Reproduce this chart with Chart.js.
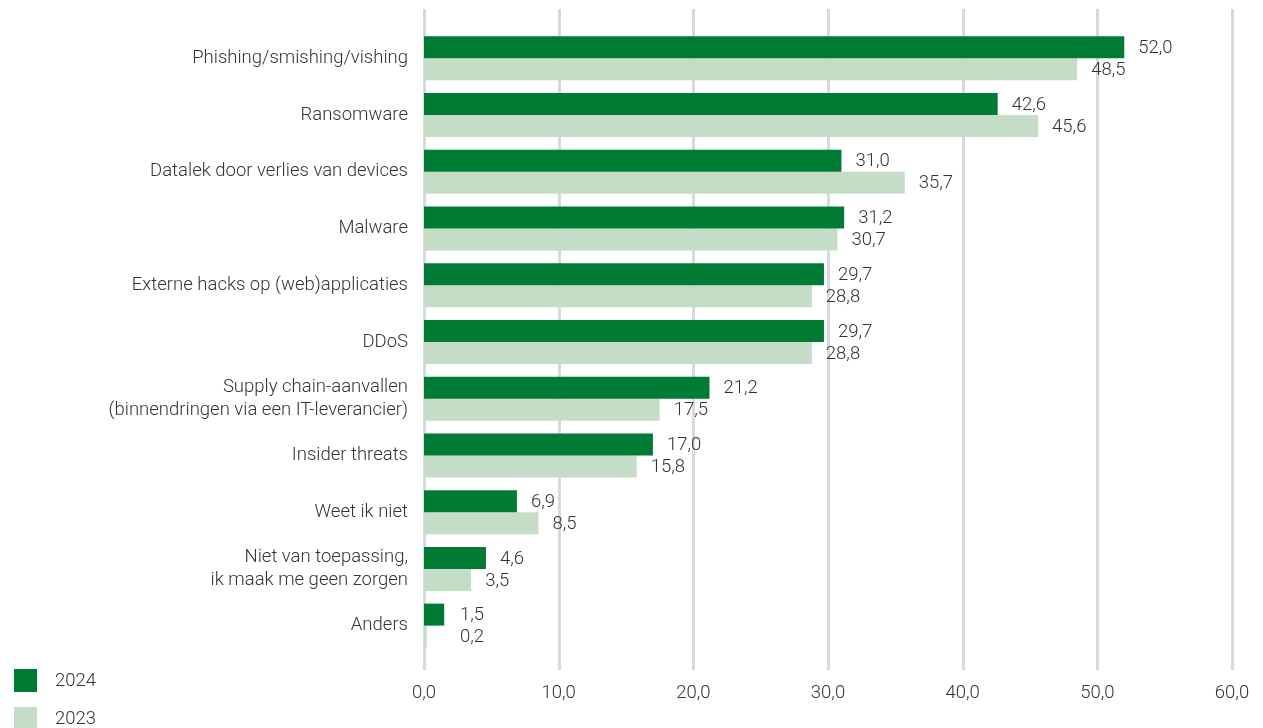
<!DOCTYPE html>
<html lang="nl">
<head>
<meta charset="utf-8">
<title>Zorgen over cyberdreigingen</title>
<script src="https://cdn.jsdelivr.net/npm/chart.js@4/dist/chart.umd.min.js"></script>
<style>
  html, body { margin: 0; padding: 0; background: #fff; }
  #wrap { position: relative; width: 1263px; height: 728px; overflow: hidden; }
  .legend { position: absolute; left: 14px; font: 300 18.5px Roboto, sans-serif; color: #333; }
  .legend div { position: relative; height: 38px; line-height: 23px; padding-left: 41px; }
  .legend span { position: absolute; left: 0; top: 0; width: 23px; height: 23px; }
</style>
</head>
<body>
<div id="wrap">
  <canvas id="dreigingen" width="1263" height="728"></canvas>
  <div class="legend" style="top:669px">
    <div><span style="background:#007b33"></span>2024</div>
    <div><span style="background:#c5dcc6"></span>2023</div>
  </div>
</div>
<script>
// Categorieën (meerregelig waar nodig)
const categorieen = [
    "Phishing/smishing/vishing",
    "Ransomware",
    "Datalek door verlies van devices",
    "Malware",
    "Externe hacks op (web)applicaties",
    "DDoS",
    ["Supply chain-aanvallen", "(binnendringen via een IT-leverancier)"],
    "Insider threats",
    "Weet ik niet",
    ["Niet van toepassing,", "ik maak me geen zorgen"],
    "Anders"
];

// Percentages per jaar
const waarden2024 = [52.0, 42.6, 31.0, 31.2, 29.7, 29.7, 21.2, 17.0, 6.9, 4.6, 1.5];
const waarden2023 = [48.5, 45.6, 35.7, 30.7, 28.8, 28.8, 17.5, 15.8, 8.5, 3.5, 0.2];

// As-labels 0,0 t/m 60,0
const asTicks = [0, 10, 20, 30, 40, 50, 60];

const tekstKleur = "#333333";
const lettertype = { family: "Roboto, sans-serif", size: 18.5, weight: 300 };

function nlGetal(v) {
    return Number(v).toFixed(1).replace(".", ",");
}

// ===== Verticale rasterlijnen, iets langer dan het plotgebied =====
const rasterPlugin = {
    id: "raster",
    beforeDatasetsDraw(chart) {
        const ctx = chart.ctx;
        const x = chart.scales.x;
        ctx.save();
        ctx.strokeStyle = "#d6d9de";
        ctx.lineWidth = 3;
        x.ticks.forEach(t => {
            const px = Math.round(x.getPixelForValue(t.value)) + 0.5;
            ctx.beginPath();
            ctx.moveTo(px, 9);
            ctx.lineTo(px, 670);
            ctx.stroke();
        });
        ctx.restore();
    }
};

// ===== Waardelabels rechts van de balken =====
const waardePlugin = {
    id: "waardes",
    afterDatasetsDraw(chart) {
        const ctx = chart.ctx;
        ctx.save();
        ctx.font = "300 18.5px Roboto, sans-serif";
        ctx.fillStyle = tekstKleur;
        ctx.textBaseline = "middle";
        ctx.textAlign = "left";
        chart.data.datasets.forEach((ds, i) => {
            const meta = chart.getDatasetMeta(i);
            meta.data.forEach((el, j) => {
                const x = Math.max(el.x, el.base + 22) + 14;
                ctx.fillText(nlGetal(ds.data[j]), x, el.y + 1);
            });
        });
        ctx.restore();
    }
};

new Chart(document.getElementById("dreigingen"), {
    type: "bar",
    data: {
        labels: categorieen,
        datasets: [
            {
                label: "2024",
                data: waarden2024,
                backgroundColor: "#007b33",
                categoryPercentage: 0.776,
                barPercentage: 1
            },
            {
                label: "2023",
                data: waarden2023,
                backgroundColor: "#c5dcc6",
                categoryPercentage: 0.776,
                barPercentage: 1
            }
        ]
    },
    options: {
        indexAxis: "y",
        responsive: false,
        animation: false,
        layout: { padding: { top: 30, right: 31, bottom: 0, left: 0 } },
        plugins: {
            legend: { display: false },
            tooltip: { enabled: false }
        },
        scales: {
            x: {
                min: 0,
                max: 60,
                afterBuildTicks(scale) {
                    scale.ticks = asTicks.map(v => ({ value: v }));
                },
                afterFit(scale) {
                    scale.height = 74;
                    scale.paddingLeft = 0;
                    scale.paddingRight = 0;
                },
                grid: { display: false, drawTicks: false },
                border: { display: false },
                ticks: {
                    padding: 28,
                    color: tekstKleur,
                    font: lettertype,
                    callback: v => nlGetal(v)
                }
            },
            y: {
                afterFit(scale) { scale.width = 424; },
                grid: { display: false, drawTicks: false },
                border: { display: false },
                ticks: {
                    padding: 16,
                    color: tekstKleur,
                    font: Object.assign({ lineHeight: 1.26 }, lettertype)
                }
            }
        }
    },
    plugins: [rasterPlugin, waardePlugin]
});
</script>
</body>
</html>
